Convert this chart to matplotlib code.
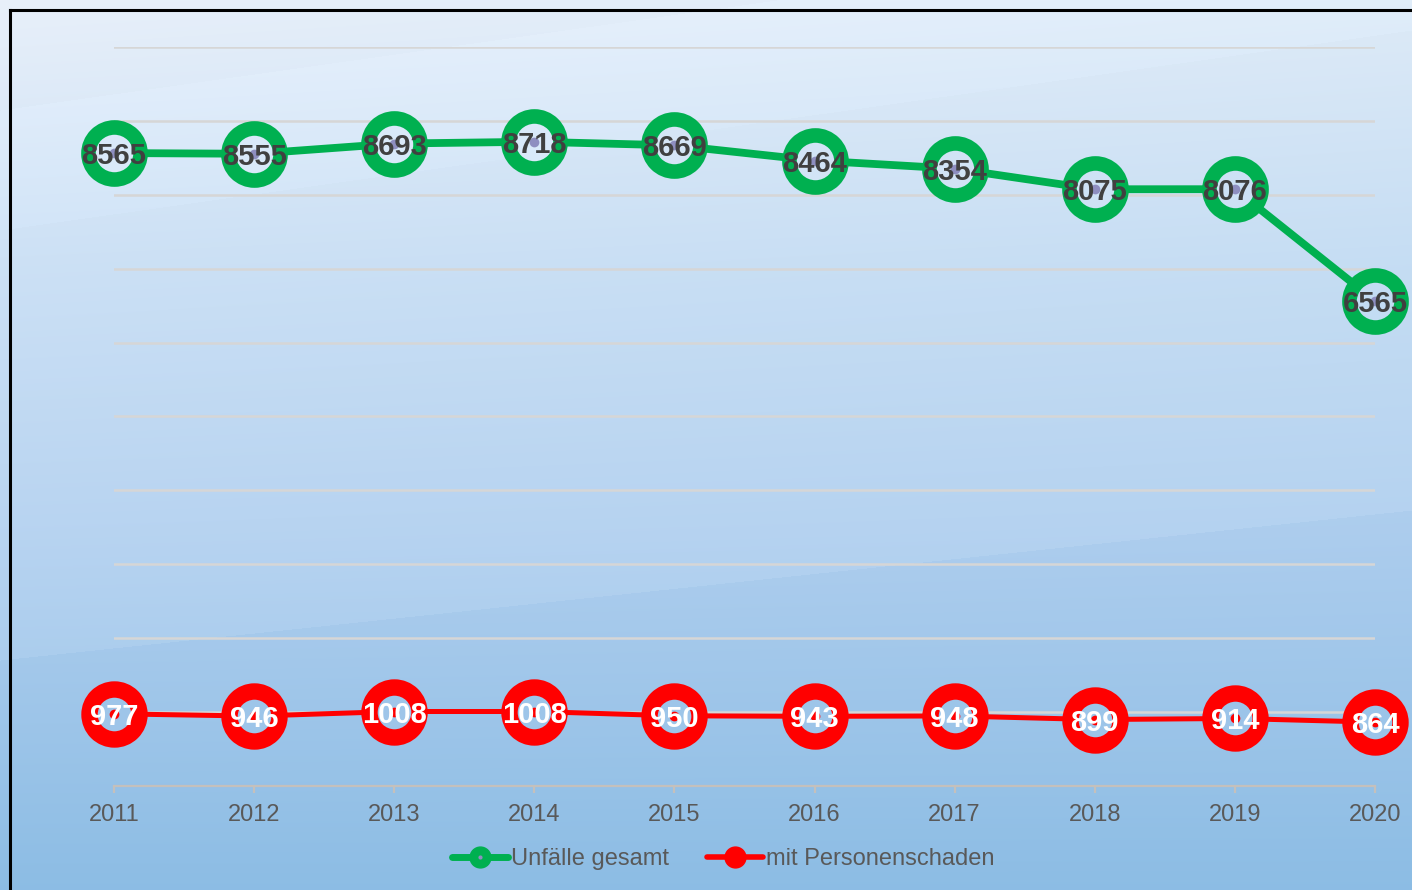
"""Unfälle gesamt / mit Personenschaden, 2011–2020 (Liniendiagramm im Excel-Stil)."""

import matplotlib.pyplot as plt
import numpy as np
from matplotlib.lines import Line2D

plt.rcParams["font.family"] = ["Liberation Sans", "DejaVu Sans"]

# --- Daten ---
years = [2011, 2012, 2013, 2014, 2015, 2016, 2017, 2018, 2019, 2020]
unfaelle_gesamt = [8565, 8555, 8693, 8718, 8669, 8464, 8354, 8075, 8076, 6565]
mit_personenschaden = [977, 946, 1008, 1008, 950, 943, 948, 899, 914, 864]
series_names = ["Unfälle gesamt", "mit Personenschaden"]

GREEN = "#00b050"
RED = "#ff0000"
TEXT_GRAY = "#595959"
DOT_PURPLE = "#8e8ec0"

W, H = 1412, 890
fig = plt.figure(figsize=(W / 100, H / 100), dpi=100)


# --- Hintergrund: vertikaler Verlauf + schräge Bänder ---
def make_background(w, h):
    yy, xx = np.mgrid[0:h, 0:w].astype(float)
    t = yy / h
    stops_t = [0.0, 0.3, 0.6, 1.0]
    stops_c = np.array([
        [0.91, 0.94, 0.98],
        [0.80, 0.88, 0.96],
        [0.72, 0.83, 0.945],
        [0.58, 0.76, 0.905],
    ])
    img = np.zeros((h, w, 3))
    for k in range(3):
        img[..., k] = np.interp(t, stops_t, stops_c[:, k])
    # leichter Rechts-Drift (oben rechts etwas blauer)
    img -= (xx / w)[..., None] * np.array([0.04, 0.02, 0.01]) * (1 - t[..., None])
    # schräge Kante: unterhalb etwas dunkler
    edge = 660 - (xx / w) * 150
    img -= (yy > edge)[..., None] * np.array([0.03, 0.02, 0.01])
    # schwaches helles Band oben links
    edge2 = 230 - (xx / w) * 200
    img += ((yy < edge2) & (yy > edge2 - 120))[..., None] * 0.01
    return np.clip(img, 0, 1)


bg = make_background(W, H)
ax_bg = fig.add_axes([0, 0, 1, 1])
ax_bg.imshow(bg, aspect="auto", extent=(0, W, H, 0), interpolation="bilinear")
ax_bg.set_axis_off()

# Rahmen (links und oben)
fig.add_artist(Line2D([10 / W, 10 / W], [0, 1 - 10 / H], color="black", lw=2.2,
                      transform=fig.transFigure))
fig.add_artist(Line2D([10 / W, 1], [1 - 10 / H, 1 - 10 / H], color="black", lw=2.2,
                      transform=fig.transFigure))

# --- Diagrammfläche ---
x0, x1 = 114, 1375
y_top, y_axis = 47, 786
ax = fig.add_axes([x0 / W, 1 - y_axis / H, (x1 - x0) / W, (y_axis - y_top) / H])
ax.patch.set_alpha(0)
ax.set_xlim(years[0], years[-1])
ax.set_ylim(0, 10000)

for v in range(1000, 10001, 1000):
    ax.axhline(v, color="#d6d6d6", lw=1.8, zorder=1)

for s in ["left", "right", "top"]:
    ax.spines[s].set_visible(False)
ax.spines["bottom"].set_color("#c4c0bc")
ax.spines["bottom"].set_linewidth(1.6)
ax.set_yticks([])
ax.set_xticks(years)
ax.set_xticklabels([str(y) for y in years])
ax.tick_params(axis="x", direction="out", length=5, width=1.6, color="#c4c0bc",
               labelsize=17, labelcolor=TEXT_GRAY, pad=8)


def bg_at(xd, yd):
    px, py = ax.transData.transform((xd, yd))
    col = int(np.clip(px, 0, W - 1))
    row = int(np.clip(H - py, 0, H - 1))
    return bg[row, col]


def draw_series(values, color, lw, ms, mew, dot_color, label_color):
    ax.plot(years, values, color=color, lw=lw, zorder=3, clip_on=False,
            solid_capstyle="round")
    for x, v in zip(years, values):
        ax.plot([x], [v], marker="o", ms=ms, mew=mew, mec=color, mfc=bg_at(x, v),
                zorder=4, clip_on=False)
        ax.plot([x], [v], marker="o", ms=7, mew=0, mfc=dot_color, zorder=5,
                clip_on=False)
        ax.text(x, v, str(v), ha="center", va="center_baseline", fontsize=21,
                fontweight="bold", color=label_color, zorder=6, clip_on=False)


draw_series(unfaelle_gesamt, GREEN, 5.6, 37.5, 10.5, DOT_PURPLE, "#404040")
draw_series(mit_personenschaden, RED, 3.6, 36.0, 11.8, RED, "white")

# --- Legende ---
green_line = Line2D([], [], color=GREEN, lw=5, marker="o", ms=15, mfc=GREEN,
                    mec=GREEN, solid_capstyle="round")
green_dot = Line2D([], [], ls="none", marker="o", ms=3, mfc=DOT_PURPLE, mew=0)
red_line = Line2D([], [], color=RED, lw=4, marker="o", ms=15, mfc=RED, mec=RED,
                  solid_capstyle="round")
fig.legend([(green_line, green_dot), red_line], series_names, loc="center",
           bbox_to_anchor=(0.512, 1 - 859 / H), ncol=2, frameon=False,
           fontsize=17, labelcolor=TEXT_GRAY, handlelength=2.4,
           handletextpad=0.1, columnspacing=1.6)

fig.savefig("out.png", dpi=100)
